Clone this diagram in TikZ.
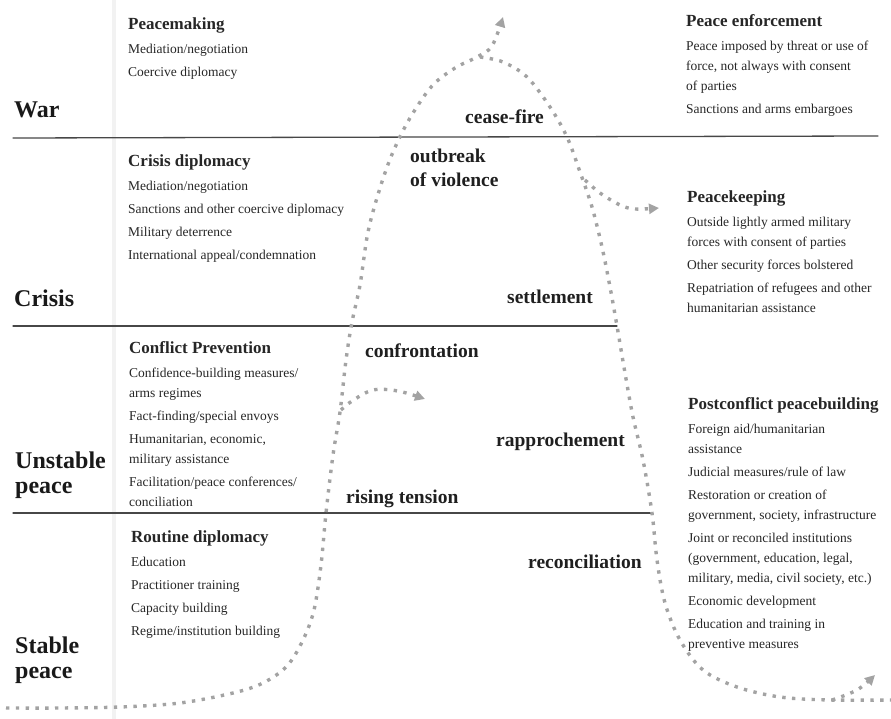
\documentclass[tikz,border=0pt]{standalone}
\usepackage{fontspec}
\setmainfont{Liberation Serif}
\usepackage{tkz-euclide}
\usetikzlibrary{arrows.meta}

\tikzset{
  band/.style={line width=1.3pt, draw=black!72},
  trackline/.style={draw=black!36, line width=3.4pt, dash pattern=on 3.4pt off 6.4pt},
  trackarrow/.style={trackline, -{Triangle[length=10pt,width=10pt]}},
  zone/.style={font=\fontsize{24}{25}\selectfont\bfseries, inner sep=0pt, align=left, text=black!90},
  stage/.style={font=\fontsize{19.5}{24}\selectfont\bfseries, inner sep=0pt, align=left, text=black!88},
  toolbox/.style={font=\fontsize{13.5}{20}\selectfont, inner sep=0pt, align=left, anchor=north west, text=black!85},
}
\newcommand{\boxhead}[1]{{\fontsize{17}{20}\selectfont\bfseries #1}}

\begin{document}
\begin{tikzpicture}[x=1pt,y=-1pt]
            \useasboundingbox (0,0) rectangle (891,719);
            \fill[black!5] (112,0) rectangle (116,719);
            \tkzDefPoint(13,138){WL}
            \tkzDefPoint(878,136){WR}
            \tkzDefPoint(13,326){CL}
            \tkzDefPoint(617,326){CR}
            \tkzDefPoint(13,513){UL}
            \tkzDefPoint(652,513){UR}
            \tkzDrawSegments[band](WL,WR CL,CR UL,UR)
            \draw[trackarrow] plot[smooth,tension=0.55] coordinates {(6,708) (60,708) (120,707) (180,703) (233,693) (263,683) (287,666) (303,640) (314,610) (321,565) (326,513) (333,455) (340,412) (346,360) (352,322) (360,285) (368,232) (380,188) (393,152) (410,118) (432,86) (455,68) (477,57) (492,46) (503,17)};
            \draw[trackline] plot[smooth,tension=0.55] coordinates {(480,57) (503,62) (527,77) (550,107) (567,137) (580,172) (592,207) (602,247) (610,287) (617,326) (625,373) (633,417) (643,460) (652,513) (657,560) (665,603) (680,640) (703,670) (737,687) (780,697) (830,700) (891,700)};
            \draw[trackarrow] plot[smooth,tension=0.55] coordinates {(585,180) (600,193) (620,205) (635,209) (659,208)};
            \draw[trackarrow] plot[smooth,tension=0.55] coordinates {(341,410) (352,401) (373,390) (398,391) (425,399)};
            \draw[trackarrow] plot[smooth,tension=0.55] coordinates {(832,700) (857,690) (875,675)};
            \node[zone,anchor=base west] (war) at (14,118) {War};
            \node[zone,anchor=base west] (crisis) at (14,306) {Crisis};
            \node[zone,anchor=north west] (unstable) at (15,452) {Unstable\\peace};
            \node[zone,anchor=north west] (stable) at (15,637) {Stable\\peace};
            \node[toolbox] (peacemaking) at (128,17.5) {\boxhead{Peacemaking}\\[4pt]
              Mediation/negotiation\\[3pt]
              Coercive diplomacy};
            \node[toolbox] (crisisdip) at (128,154.5) {\boxhead{Crisis diplomacy}\\[4pt]
              Mediation/negotiation\\[3pt]
              Sanctions and other coercive diplomacy\\[3pt]
              Military deterrence\\[3pt]
              International appeal/condemnation};
            \node[toolbox] (prevention) at (129,341.5) {\boxhead{Conflict Prevention}\\[4pt]
              Confidence-building measures/\\
              arms regimes\\[3pt]
              Fact-finding/special envoys\\[3pt]
              Humanitarian, economic,\\
              military assistance\\[3pt]
              Facilitation/peace conferences/\\
              conciliation};
            \node[toolbox] (routine) at (131,530.5) {\boxhead{Routine diplomacy}\\[4pt]
              Education\\[3pt]
              Practitioner training\\[3pt]
              Capacity building\\[3pt]
              Regime/institution building};
            \node[toolbox] (enforcement) at (686,14.5) {\boxhead{Peace enforcement}\\[4pt]
              Peace imposed by threat or use of\\
              force, not always with consent\\
              of parties\\[3pt]
              Sanctions and arms embargoes};
            \node[toolbox] (keeping) at (687,190.5) {\boxhead{Peacekeeping}\\[4pt]
              Outside lightly armed military\\
              forces with consent of parties\\[3pt]
              Other security forces bolstered\\[3pt]
              Repatriation of refugees and other\\
              humanitarian assistance};
            \node[toolbox] (building) at (688,397.5) {\boxhead{Postconflict peacebuilding}\\[4pt]
              Foreign aid/humanitarian\\
              assistance\\[3pt]
              Judicial measures/rule of law\\[3pt]
              Restoration or creation of\\
              government, society, infrastructure\\[3pt]
              Joint or reconciled institutions\\
              (government, education, legal,\\
              military, media, civil society, etc.)\\[3pt]
              Economic development\\[3pt]
              Education and training in\\
              preventive measures};
            \node[stage,anchor=base west] (ceasefire) at (465,124) {cease-fire};
            \node[stage,anchor=north west] (outbreak) at (410,149) {outbreak\\of violence};
            \node[stage,anchor=base west] (settlement) at (507,303) {settlement};
            \node[stage,anchor=base west] (confrontation) at (365,357) {confrontation};
            \node[stage,anchor=base west] (rapprochement) at (496,446) {rapprochement};
            \node[stage,anchor=base west] (rising) at (346,503) {rising tension};
            \node[stage,anchor=base west] (reconciliation) at (528,568) {reconciliation};
        \end{tikzpicture}
\end{document}
